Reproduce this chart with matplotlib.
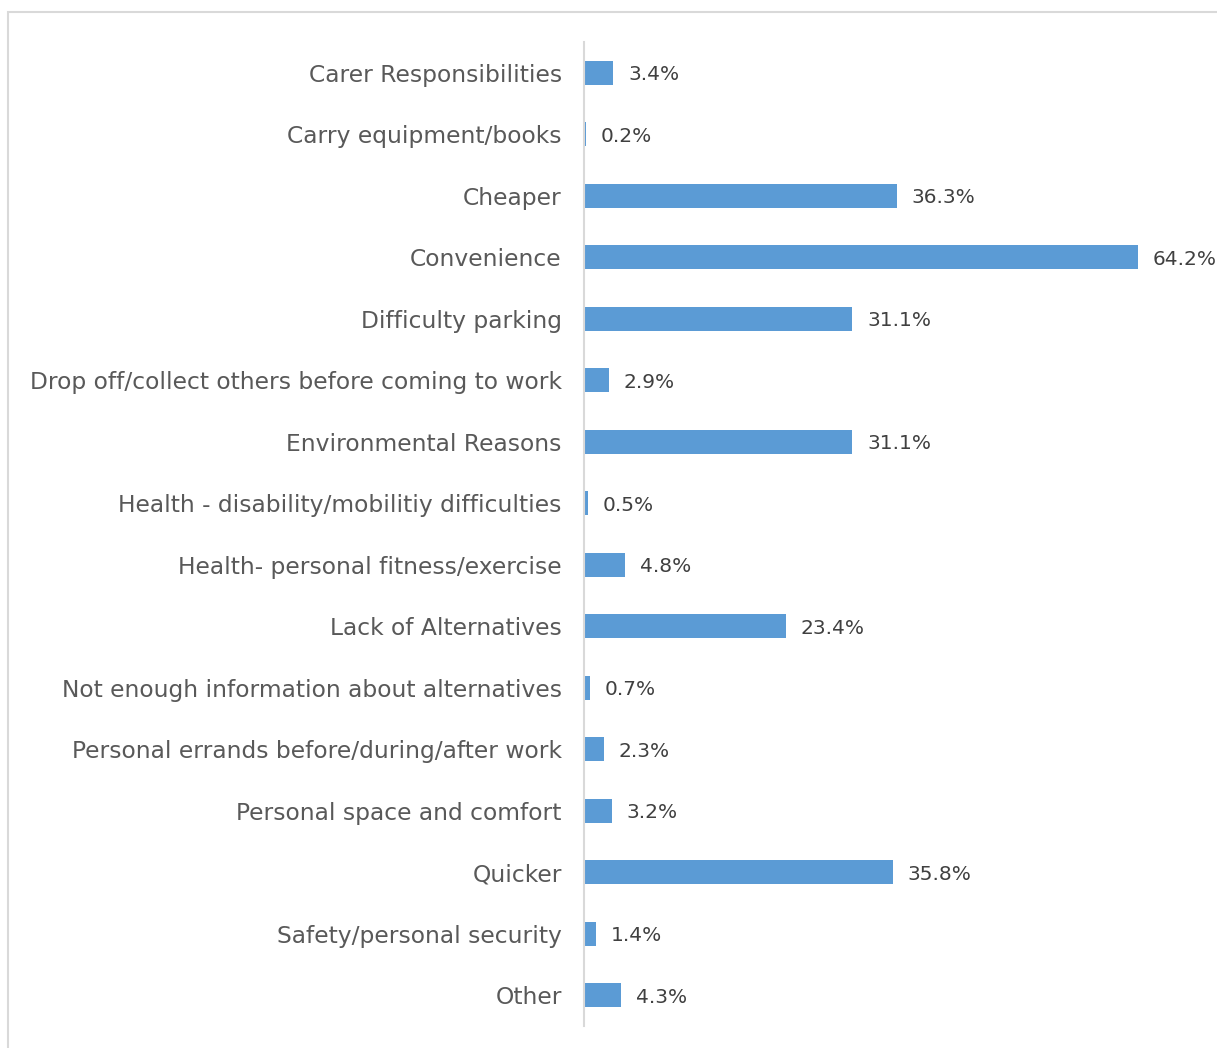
import matplotlib.pyplot as plt
from matplotlib.patches import Rectangle

reasons = [
    "Carer Responsibilities",
    "Carry equipment/books",
    "Cheaper",
    "Convenience",
    "Difficulty parking",
    "Drop off/collect others before coming to work",
    "Environmental Reasons",
    "Health - disability/mobilitiy difficulties",
    "Health- personal fitness/exercise",
    "Lack of Alternatives",
    "Not enough information about alternatives",
    "Personal errands before/during/after work",
    "Personal space and comfort",
    "Quicker",
    "Safety/personal security",
    "Other",
]
percent = [3.4, 0.2, 36.3, 64.2, 31.1, 2.9, 31.1, 0.5, 4.8, 23.4, 0.7, 2.3, 3.2, 35.8, 1.4, 4.3]

plt.rcParams['font.family'] = ['DejaVu Sans']

W, H = 1217, 1048
fig = plt.figure(figsize=(W / 100, H / 100), dpi=100)

# chart-area frame, runs off the right and bottom edge
fig.patches.append(Rectangle((8 / W, -0.05), 1.1, 1 - 12 / H + 0.05,
                             transform=fig.transFigure, fill=False,
                             edgecolor='#D9D9D9', linewidth=1.5))

ax = fig.add_axes([584 / W, 22 / H, 604 / W, 984 / H])
y = range(len(reasons))
ax.barh(y, percent, height=0.39, color='#5B9BD5')

for yi, v in zip(y, percent):
    ax.text(v + 1.7, yi, f"{v:.1f}%", va='center_baseline', ha='left',
            fontsize=14.5, color='#404040')

ax.set_ylim(len(reasons) - 0.5, -0.5)
ax.set_xlim(0, 70)
ax.set_yticks(list(y))
ax.set_yticklabels(reasons, fontsize=16.8, color='#595959')
ax.tick_params(axis='y', length=0, pad=16)
ax.set_xticks([])
for s in ['top', 'right', 'bottom']:
    ax.spines[s].set_visible(False)
ax.spines['left'].set_color('#D9D9D9')
ax.spines['left'].set_linewidth(1.5)

fig.savefig('out.png', dpi=100)
